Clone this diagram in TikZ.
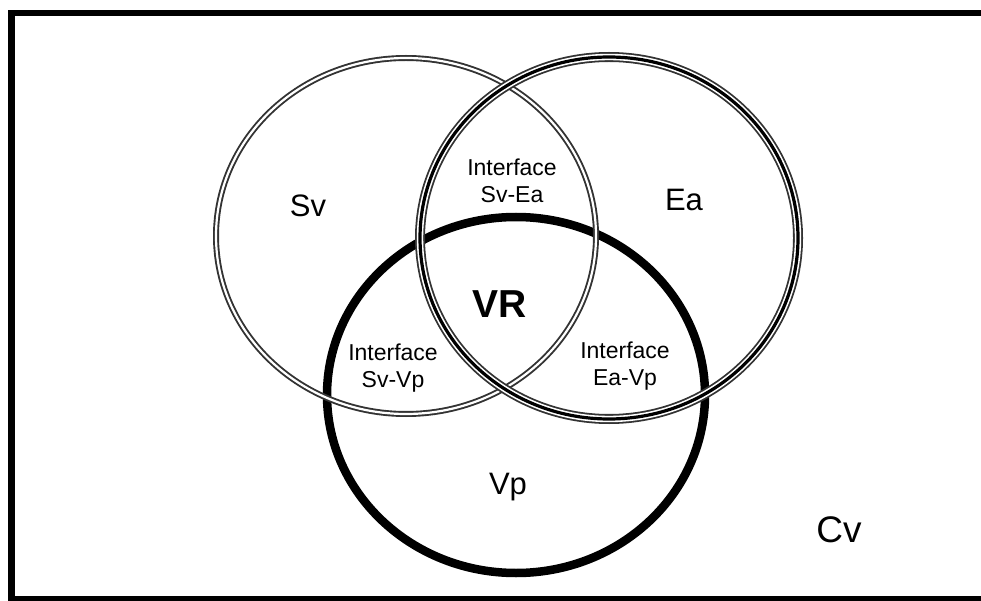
\documentclass[tikz,border=0pt]{standalone}
\usepackage{fontspec}
\setmainfont{Liberation Sans}
\begin{document}
\begin{tikzpicture}[x=1pt,y=-1pt,
  big/.style={font=\fontsize{31}{34}\selectfont, inner sep=0pt},
  small/.style={font=\fontsize{23}{27}\selectfont, align=center, inner sep=0pt},
  svline/.style={draw=black!80, double=white, double distance=2.2pt, line width=1.9pt},
  vpline/.style={draw=black, line width=8.5pt}]
\useasboundingbox (0,0) rectangle (981,601);
\draw[line width=6.5pt] (11.5,13) rectangle (1000,599.5);
% Vp
\draw[vpline] (516,395) ellipse [x radius=189, y radius=178];
% Sv
\draw[svline] (406,236) ellipse [x radius=190, y radius=178];
% Ea (triple line)
\draw[black!80, line width=10pt] (609,238) ellipse [x radius=189, y radius=181];
\draw[white, line width=6.4pt] (609,238) ellipse [x radius=189, y radius=181];
\draw[black, line width=3.2pt] (609,238) ellipse [x radius=189, y radius=181];
% labels
\node[big] (sv) at (308,206) {Sv};
\node[big] (ea) at (684,200) {Ea};
\node[small] (svea) at (512,181) {Interface\\Sv-Ea};
\node[big, font=\fontsize{39}{40}\selectfont\bfseries] (vr) at (500,304) {VR};
\node[small] (svvp) at (393,368) {Interface\\Sv-Vp};
\node[small] (eavp) at (625,366) {Interface\\Ea-Vp};
\node[big] (vp) at (508,487) {Vp};
\node[big, font=\fontsize{37}{40}\selectfont] (cv) at (839,530) {Cv};
\end{tikzpicture}
\end{document}
